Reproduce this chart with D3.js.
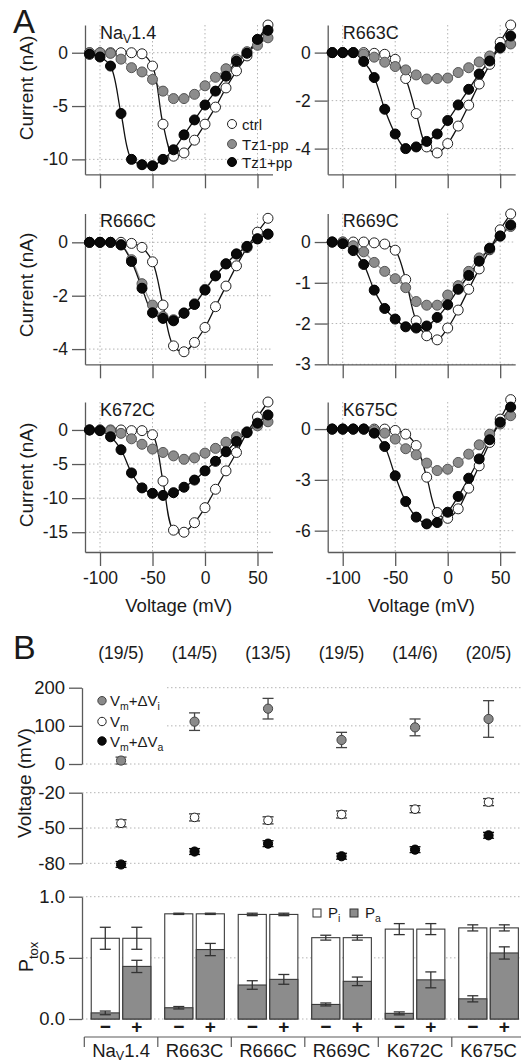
<!DOCTYPE html>
<html><head><meta charset="utf-8">
<script src="https://cdn.jsdelivr.net/npm/d3@7"></script>
<style>
body{margin:0;background:#fff}
svg{display:block}
text{font-family:"Liberation Sans",Arial,Helvetica,sans-serif;fill:#1a1a1a}
</style>
</head><body>
<svg id="c" width="521" height="1063"></svg>
<script>
// ---------------- DATA ----------------
const voltages = [-110,-100,-90,-80,-70,-60,-50,-40,-30,-20,-10,0,10,20,30,40,50,60];
const xTickVals = [-100,-50,0,50];

// NaV1.4
const nav_ctrl  = [0,0,0,0,0,-0.1,-1.25,-6.7,-9.7,-9.4,-8.2,-6.7,-5.1,-3.3,-1.7,-0.3,1.2,2.6];
const nav_minus = [0,0,-0.06,-0.6,-1.4,-1.8,-2.5,-3.6,-4.3,-4.3,-3.9,-3.1,-2.3,-1.5,-0.6,0.1,0.7,1.4];
const nav_plus  = [-0.15,-0.4,-1.25,-5.7,-10.0,-10.5,-10.6,-10.0,-9.1,-7.7,-6.3,-4.9,-3.6,-2.2,-0.8,-0.05,1.25,2.1];
// R663C
const r663_ctrl  = [0,0,0,0,-0.03,-0.07,-0.28,-1.08,-2.54,-3.93,-4.18,-3.79,-3.06,-2.19,-1.31,-0.49,0.43,1.15];
const r663_minus = [0,0,0,-0.06,-0.19,-0.4,-0.58,-0.72,-0.93,-1.1,-1.08,-1.06,-0.83,-0.63,-0.39,-0.14,0.18,0.36];
const r663_plus  = [0,0,0,-0.37,-1.04,-2.36,-3.39,-4.0,-3.93,-3.7,-3.39,-2.83,-2.18,-1.53,-0.89,-0.35,0.21,0.69];
// R666C
const r666_ctrl  = [0,0,0,0,-0.04,-0.19,-0.73,-2.35,-3.88,-4.1,-3.75,-3.19,-2.41,-1.64,-0.88,-0.2,0.38,0.9];
const r666_minus = [0,0,0,-0.08,-0.65,-1.55,-2.35,-2.78,-2.9,-2.64,-2.3,-1.76,-1.24,-0.8,-0.43,-0.15,0.13,0.3];
const r666_plus  = [0,0,0,-0.1,-0.72,-1.72,-2.64,-2.85,-2.94,-2.66,-2.33,-1.79,-1.26,-0.81,-0.44,-0.16,0.13,0.31];
// R669C
const r669_ctrl  = [0,0,0,0,-0.02,-0.05,-0.2,-0.92,-1.93,-2.3,-2.4,-2.11,-1.67,-1.16,-0.66,-0.19,0.3,0.69];
const r669_minus = [0,0,-0.09,-0.24,-0.5,-0.72,-0.9,-1.12,-1.46,-1.55,-1.55,-1.3,-1.07,-0.72,-0.39,-0.17,0.14,0.38];
const r669_plus  = [0,-0.04,-0.21,-0.55,-1.18,-1.63,-1.89,-2.08,-2.11,-2.06,-1.85,-1.54,-1.16,-0.82,-0.47,-0.15,0.15,0.42];
// K672C
const k672_ctrl  = [0,0,0,0,-0.1,-0.1,-0.7,-7.5,-14.7,-15.0,-13.6,-11.4,-8.7,-6.0,-3.3,-0.4,1.9,4.1];
const k672_minus = [0,0,-0.1,-0.5,-1.3,-2.1,-2.8,-3.3,-3.8,-4.3,-4.1,-3.4,-2.7,-1.8,-1.0,-0.25,0.6,1.2];
const k672_plus  = [0,-0.1,-1.0,-2.9,-6.3,-8.5,-9.3,-9.6,-9.2,-8.4,-7.35,-6.0,-4.6,-3.2,-1.7,-0.35,1.0,2.2];
// K675C
const k675_ctrl  = [0,0,0,0,0,0,-0.08,-0.3,-0.97,-2.84,-4.93,-5.27,-4.71,-3.49,-2.17,-0.79,0.59,1.74];
const k675_minus = [0,0,0,0,-0.08,-0.24,-0.59,-1.16,-1.52,-2.01,-2.45,-2.37,-1.97,-1.48,-0.93,-0.3,0.3,0.79];
const k675_plus  = [0,0,0,0,-0.24,-1.03,-2.76,-4.28,-5.2,-5.6,-5.52,-4.91,-3.98,-2.9,-1.76,-0.63,0.41,1.3];

const legendLabels = ["ctrl","Tz1-pp","Tz1+pp"];

// Panel B
const mutants = ["NaV1.4","R663C","R666C","R669C","K672C","K675C"];
const cellCounts = ["(19/5)","(14/5)","(13/5)","(19/5)","(14/6)","(20/5)"];
const vInact    = [9,111,145,63,96,118];
const vInactErr = [9,23,27,20,22,48];
const vMid      = [-46,-41,-43.5,-38.5,-34,-28];
const vMidErr   = [3,3,3,3,3,3];
const vAct      = [-81,-70,-63.3,-74,-68.4,-56.2];
const vActErr   = [2.5,2.5,2.5,2.5,2.5,2.5];
const pTotMinus    = [0.66,0.86,0.855,0.665,0.735,0.745];
const pTotMinusErr = [0.09,0.005,0.01,0.02,0.045,0.025];
const pTotPlus     = [0.66,0.86,0.855,0.665,0.735,0.745];
const pTotPlusErr  = [0.09,0.005,0.01,0.02,0.045,0.025];
const pAMinus      = [0.05,0.092,0.278,0.119,0.046,0.165];
const pAMinusErr   = [0.015,0.01,0.035,0.012,0.012,0.025];
const pAPlus       = [0.43,0.568,0.324,0.308,0.32,0.54];
const pAPlusErr    = [0.05,0.05,0.04,0.035,0.065,0.05];

// ---------------- DRAW ----------------
const svg = d3.select("#c");
const AX = "#5a5a5a", GRID = "#b4b4b4";
const FILL = {ctrl:"#ffffff", minus:"#8c8c8c", plus:"#0a0a0a"};

function styleAxis(sel, fs){
  sel.select(".domain").attr("stroke",AX).attr("stroke-width",1.3);
  sel.selectAll(".tick line").attr("stroke",AX).attr("stroke-width",1.3);
  sel.selectAll(".tick text").attr("fill","#1a1a1a").style("font-size",fs+"px").style("font-family",'"Liberation Sans",Arial,sans-serif');
}

function title(g, x, y, name, fs, subDy){
  const sd = subDy || 4;
  const t = g.append("text").attr("x",x).attr("y",y).style("font-size",fs+"px");
  if(name==="NaV1.4"){
    t.append("tspan").text("Na");
    t.append("tspan").text("V").style("font-size",(fs*0.68)+"px").attr("dy",sd);
    t.append("tspan").text("1.4").attr("dy",-sd);
  } else t.text(name);
  return t;
}

const xDom = [-114.3, 64.3];
function ivPanel(cfg){
  const W = 187.5;
  const x = d3.scaleLinear().domain(xDom).range([cfg.x0, cfg.x0+W]);
  const y = d3.scaleLinear().domain(cfg.yDom).range([cfg.bottom, cfg.top]);
  const g = svg.append("g");
  g.selectAll(null).data(xTickVals).join("line")
    .attr("x1",d=>x(d)).attr("x2",d=>x(d)).attr("y1",cfg.top).attr("y2",cfg.bottom)
    .attr("stroke",GRID).attr("stroke-width",1).attr("stroke-dasharray","1.5,2.5");
  g.selectAll(null).data(cfg.yTicks).join("line")
    .attr("x1",cfg.x0).attr("x2",cfg.x0+W).attr("y1",d=>y(d)).attr("y2",d=>y(d))
    .attr("stroke",GRID).attr("stroke-width",1).attr("stroke-dasharray","1.5,2.5");
  const ay = g.append("g").attr("transform",`translate(${cfg.x0},0)`)
    .call(d3.axisLeft(y).tickValues(cfg.yTicks).tickSize(13).tickSizeOuter(0).tickPadding(4).tickFormat(d=>String(d)));
  styleAxis(ay,17.5);
  const ax = g.append("g").attr("transform",`translate(0,${cfg.bottom})`)
    .call(d3.axisBottom(x).tickValues(xTickVals).tickSize(14).tickSizeOuter(0).tickPadding(6)
      .tickFormat(cfg.xLabels ? (d=>String(d)) : ""));
  styleAxis(ax,17.5);
  title(g, cfg.x0+15, cfg.top+13.5, cfg.name, 18);

  const sers = [
    {vals:cfg.ctrl, fill:FILL.ctrl, stroke:"#222", line:"#111"},
    {vals:cfg.minus, fill:FILL.minus, stroke:"#555", line:"#9a9a9a"},
    {vals:cfg.plus, fill:FILL.plus, stroke:"#000", line:"#111"}
  ];
  const lineGen = d3.line().x((d,i)=>x(voltages[i])).y(d=>y(d)).curve(d3.curveCatmullRom.alpha(0.5));
  [1,0,2].forEach(k=>{
    g.append("path").attr("d",lineGen(sers[k].vals)).attr("fill","none")
      .attr("stroke",sers[k].line).attr("stroke-width",1.3);
  });
  [0,1,2].forEach(k=>{
    g.selectAll(null).data(sers[k].vals).join("circle")
      .attr("cx",(d,i)=>x(voltages[i])).attr("cy",d=>y(d)).attr("r",5)
      .attr("fill",sers[k].fill).attr("stroke",sers[k].stroke).attr("stroke-width",1);
  });
  if(cfg.xLabels){
    g.append("text").attr("x",cfg.x0+W/2).attr("y",612).attr("text-anchor","middle")
      .style("font-size","18.5px").text("Voltage (mV)");
  }
  if(cfg.yLabel){
    g.append("text").attr("transform",`translate(33,${cfg.yLabelY}) rotate(-90)`)
      .attr("text-anchor","middle").style("font-size","19px").text("Current (nA)");
  }
  if(cfg.legend){
    const fills=[FILL.ctrl,FILL.minus,FILL.plus], strokes=["#222","#555","#000"];
    const ly=[124,144,162];
    legendLabels.forEach((lab,i)=>{
      g.append("circle").attr("cx",232).attr("cy",ly[i]).attr("r",4.5)
        .attr("fill",fills[i]).attr("stroke",strokes[i]).attr("stroke-width",1);
      g.append("text").attr("x",242).attr("y",ly[i]+5.5).style("font-size","15px").text(lab);
    });
  }
}

const L = 85, R = 327.7;
ivPanel({x0:L, top:25, bottom:174.3, yDom:[-11.4,2.6], yTicks:[0,-5,-10], name:"NaV1.4",
  ctrl:nav_ctrl, minus:nav_minus, plus:nav_plus, yLabel:true, yLabelY:88, legend:true});
ivPanel({x0:R, top:25, bottom:174.3, yDom:[-5.07,1.15], yTicks:[0,-2,-4], name:"R663C",
  ctrl:r663_ctrl, minus:r663_minus, plus:r663_plus});
ivPanel({x0:L, top:213.5, bottom:364.3, yDom:[-4.57,1.08], yTicks:[0,-2,-4], name:"R666C",
  ctrl:r666_ctrl, minus:r666_minus, plus:r666_plus, yLabel:true, yLabelY:285});
ivPanel({x0:R, top:213.5, bottom:364.3, yDom:[-3.0,0.70], yTicks:[0,-1,-2,-3], name:"R669C",
  ctrl:r669_ctrl, minus:r669_minus, plus:r669_plus});
ivPanel({x0:L, top:402, bottom:552, yDom:[-17.9,4.1], yTicks:[0,-5,-10,-15], name:"K672C",
  ctrl:k672_ctrl, minus:k672_minus, plus:k672_plus, yLabel:true, yLabelY:475, xLabels:true});
ivPanel({x0:R, top:402, bottom:552, yDom:[-7.26,1.6], yTicks:[0,-3,-6], name:"K675C",
  ctrl:k675_ctrl, minus:k675_minus, plus:k675_plus, xLabels:true});

svg.append("text").attr("x",13).attr("y",33).style("font-size","33px").text("A");
svg.append("text").attr("x",13).attr("y",659).style("font-size","34px").text("B");

// ---------- Panel B ----------
const BX = 82, XR = 521;
const gx = d3.scaleBand().domain(mutants).range([84.3, 84.3+6*73.5]);
const ix = d3.scaleBand().domain(["−","+"]).range([0,gx.bandwidth()]).paddingInner(0.11).paddingOuter(0.22);
const cx = m => gx(m)+gx.bandwidth()/2;

svg.selectAll(null).data(cellCounts).join("text")
  .attr("x",(d,i)=>cx(mutants[i])).attr("y",659).attr("text-anchor","middle")
  .style("font-size","17.5px").text(d=>d);

function gridLine(y, x1){
  svg.append("line").attr("x1",x1).attr("x2",XR).attr("y1",y).attr("y2",y)
    .attr("stroke",GRID).attr("stroke-width",1).attr("stroke-dasharray","1.5,2.5");
}
// top subplot
const yTop = d3.scaleLinear().domain([0,200]).range([764,687.7]);
[200,100].forEach(v=>gridLine(yTop(v),167)); gridLine(yTop(0),BX);
const aTop = svg.append("g").attr("transform",`translate(${BX},0)`)
  .call(d3.axisLeft(yTop).tickValues([0,100,200]).tickSize(13).tickSizeOuter(0).tickPadding(4));
styleAxis(aTop,18.5);
// middle subplot
const yMid = d3.scaleLinear().domain([-80,-20]).range([863.3,792.7]);
[-20,-50,-80].forEach(v=>gridLine(yMid(v),BX));
const aMid = svg.append("g").attr("transform",`translate(${BX},0)`)
  .call(d3.axisLeft(yMid).tickValues([-20,-50,-80]).tickSize(13).tickSizeOuter(0).tickPadding(4).tickFormat(d=>String(d)));
styleAxis(aMid,18.5);

function errV(x, y1, y2, w, color){
  svg.append("line").attr("x1",x).attr("x2",x).attr("y1",y1).attr("y2",y2).attr("stroke",color).attr("stroke-width",1.3);
  [y1,y2].forEach(yy=>svg.append("line").attr("x1",x-w/2).attr("x2",x+w/2).attr("y1",yy).attr("y2",yy).attr("stroke",color).attr("stroke-width",1.3));
}
mutants.forEach((m,i)=>{
  errV(cx(m), yTop(vInact[i]+vInactErr[i]), yTop(vInact[i]-vInactErr[i]), 11, "#444");
  errV(cx(m), yMid(vMid[i]+vMidErr[i]), yMid(vMid[i]-vMidErr[i]), 11, "#333");
  errV(cx(m), yMid(vAct[i]+vActErr[i]), yMid(vAct[i]-vActErr[i]), 11, "#111");
});
svg.selectAll(null).data(vInact).join("circle").attr("cx",(d,i)=>cx(mutants[i])).attr("cy",d=>yTop(d))
  .attr("r",4.6).attr("fill","#8a8a8a").attr("stroke","#444").attr("stroke-width",1);
svg.selectAll(null).data(vMid).join("circle").attr("cx",(d,i)=>cx(mutants[i])).attr("cy",d=>yMid(d))
  .attr("r",4.3).attr("fill","#fff").attr("stroke","#222").attr("stroke-width",1);
svg.selectAll(null).data(vAct).join("circle").attr("cx",(d,i)=>cx(mutants[i])).attr("cy",d=>yMid(d))
  .attr("r",4.6).attr("fill","#0a0a0a").attr("stroke","#000").attr("stroke-width",1);

// legend top
const legB = [{fill:"#8a8a8a",stroke:"#444",sub:["m","i"]},{fill:"#fff",stroke:"#222",sub:["m",null]},{fill:"#0a0a0a",stroke:"#000",sub:["m","a"]}];
const legY = [700.7,721.5,741];
legB.forEach((l,i)=>{
  svg.append("circle").attr("cx",102).attr("cy",legY[i]).attr("r",4.2).attr("fill",l.fill).attr("stroke",l.stroke);
  const t = svg.append("text").attr("x",110).attr("y",legY[i]+5.5).style("font-size","15px");
  t.append("tspan").text("V");
  t.append("tspan").text("m").style("font-size","10.5px").attr("dy",4);
  if(l.sub[1]){
    t.append("tspan").text("+ΔV").attr("dy",-4);
    t.append("tspan").text(l.sub[1]).style("font-size","10.5px").attr("dy",4);
  }
});
svg.append("text").attr("transform","translate(31,783) rotate(-90)").attr("text-anchor","middle")
  .style("font-size","19px").text("Voltage (mV)");

// bottom subplot
const yBar = d3.scaleLinear().domain([0,1]).range([1019,896.7]);
[1,0.5,0].forEach(v=>gridLine(yBar(v),BX));
const aBar = svg.append("g").attr("transform",`translate(${BX},0)`)
  .call(d3.axisLeft(yBar).tickValues([0,0.5,1]).tickSize(13).tickSizeOuter(0).tickPadding(4).tickFormat(d3.format(".1f")));
styleAxis(aBar,18.5);

const barSets = [
  {key:"−", tot:pTotMinus, totErr:pTotMinusErr, pa:pAMinus, paErr:pAMinusErr},
  {key:"+", tot:pTotPlus, totErr:pTotPlusErr, pa:pAPlus, paErr:pAPlusErr}
];
mutants.forEach((m,i)=>{
  barSets.forEach(s=>{
    const x0 = gx(m)+ix(s.key), w = ix.bandwidth(), xc = x0+w/2;
    svg.append("rect").attr("x",x0).attr("y",yBar(s.tot[i])).attr("width",w).attr("height",yBar(0)-yBar(s.tot[i]))
      .attr("fill","#fff").attr("stroke","#3a3a3a").attr("stroke-width",1.1);
    svg.append("rect").attr("x",x0).attr("y",yBar(s.pa[i])).attr("width",w).attr("height",yBar(0)-yBar(s.pa[i]))
      .attr("fill","#8c8c8c").attr("stroke","#3a3a3a").attr("stroke-width",1.1);
    errV(xc, yBar(s.tot[i]+s.totErr[i]), yBar(s.tot[i]-s.totErr[i]), 11, "#333");
    errV(xc, yBar(s.pa[i]+s.paErr[i]), yBar(s.pa[i]-s.paErr[i]), 11, "#333");
    svg.append("text").attr("x",xc).attr("y",1033).attr("text-anchor","middle")
      .style("font-size","19px").style("font-weight","bold").text(s.key);
  });
});
// legend bars
svg.append("rect").attr("x",313).attr("y",909).attr("width",8).attr("height",8).attr("fill","#fff").attr("stroke","#333");
const tpi = svg.append("text").attr("x",328).attr("y",918).style("font-size","15px");
tpi.append("tspan").text("P"); tpi.append("tspan").text("i").style("font-size","10.5px").attr("dy",4);
svg.append("rect").attr("x",350).attr("y",909).attr("width",8).attr("height",8).attr("fill","#8c8c8c").attr("stroke","#333");
const tpa = svg.append("text").attr("x",365).attr("y",918).style("font-size","15px");
tpa.append("tspan").text("P"); tpa.append("tspan").text("a").style("font-size","10.5px").attr("dy",4);

// Ptox label
const tp = svg.append("text").attr("transform","translate(33,957) rotate(-90)").attr("text-anchor","middle").style("font-size","20px");
tp.append("tspan").text("P"); tp.append("tspan").text("tox").style("font-size","13px").attr("dy",5);

// category axis
svg.append("line").attr("x1",84.3).attr("x2",XR).attr("y1",1037).attr("y2",1037).attr("stroke",AX).attr("stroke-width",1.2);
svg.selectAll(null).data(mutants).join("line")
  .attr("x1",d=>gx(d)).attr("x2",d=>gx(d)).attr("y1",1037).attr("y2",1047).attr("stroke",AX).attr("stroke-width",1.2);
mutants.forEach(m=>{
  const t = title(svg, cx(m), 1057, m, 18.5, 2.5);
  t.attr("text-anchor","middle");
});
</script>
</body></html>
